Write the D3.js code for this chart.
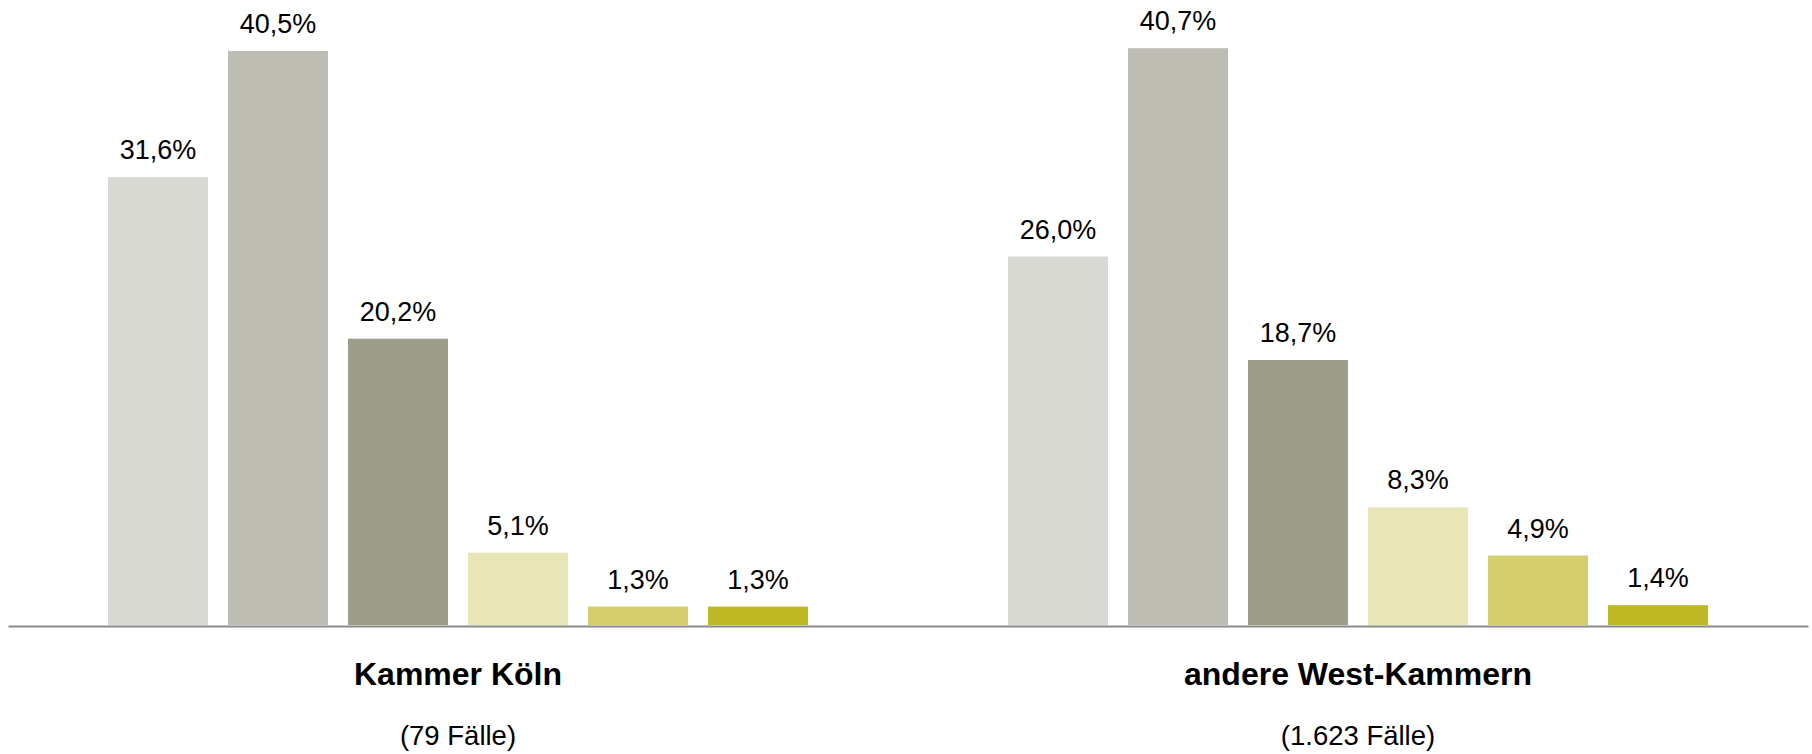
<!DOCTYPE html>
<html>
<head>
<meta charset="utf-8">
<script src="https://cdn.jsdelivr.net/npm/d3@7"></script>
<style>
  html, body { margin: 0; padding: 0; background: #ffffff; }
  svg { display: block; font-family: "Liberation Sans", Arial, sans-serif; }
</style>
</head>
<body>
<svg id="chart" width="1812" height="754"></svg>
<script>
const groups = ["Kammer Köln", "andere West-Kammern"];
const groupCases = ["(79 Fälle)", "(1.623 Fälle)"];
const seriesKeys = ["s1", "s2", "s3", "s4", "s5", "s6"];
const valuesKoeln = [31.6, 40.5, 20.2, 5.1, 1.3, 1.3];
const valuesWest = [26.0, 40.7, 18.7, 8.3, 4.9, 1.4];
const seriesColors = ["#d8d9d3", "#bdbdb3", "#9c9d8b", "#e8e6b6", "#d4cf6c", "#bfb825"];

const allValues = [valuesKoeln, valuesWest];
const fmt = v => d3.format(".1f")(v).replace(".", ",") + "%";

const svg = d3.select("#chart");
const baseY = 625;

const x0 = d3.scaleBand().domain(groups).range([8, 1808]).paddingInner(0).paddingOuter(0);
const x1 = d3.scaleBand().domain(seriesKeys).range([100, 800]).paddingInner(0.1666).paddingOuter(0);
const y = d3.scaleLinear().domain([0, 44.1]).range([baseY, 0]);

const g = svg.selectAll("g.group").data(groups).join("g")
  .attr("class", "group")
  .attr("transform", d => `translate(${x0(d)},0)`);

g.each(function(grp, gi) {
  const sel = d3.select(this);
  const data = seriesKeys.map((k, i) => ({ key: k, value: allValues[gi][i], color: seriesColors[i] }));
  sel.selectAll("rect").data(data).join("rect")
    .attr("x", d => x1(d.key))
    .attr("width", x1.bandwidth())
    .attr("y", d => y(d.value))
    .attr("height", d => baseY - y(d.value))
    .attr("fill", d => d.color);
  sel.selectAll("text.val").data(data).join("text")
    .attr("class", "val")
    .attr("x", d => x1(d.key) + x1.bandwidth() / 2)
    .attr("y", d => y(d.value) - 18)
    .attr("text-anchor", "middle")
    .attr("font-size", 27)
    .attr("fill", "#000")
    .text(d => fmt(d.value));
});

// baseline axis
const axis = d3.axisBottom(x0).tickSize(0).tickFormat("");
svg.append("g")
  .attr("transform", `translate(0,${baseY + 1})`)
  .call(axis)
  .call(a => a.select(".domain").attr("stroke", "#8a8a8a").attr("stroke-width", 2));

// category labels
svg.selectAll("text.cat").data(groups).join("text")
  .attr("class", "cat")
  .attr("x", d => x0(d) + x0.bandwidth() / 2)
  .attr("y", 685)
  .attr("text-anchor", "middle")
  .attr("font-size", 32)
  .attr("font-weight", "bold")
  .attr("fill", "#000")
  .text(d => d);

svg.selectAll("text.cases").data(groupCases).join("text")
  .attr("class", "cases")
  .attr("x", (d, i) => x0(groups[i]) + x0.bandwidth() / 2)
  .attr("y", 745)
  .attr("text-anchor", "middle")
  .attr("font-size", 27.5)
  .attr("fill", "#000")
  .text(d => d);
</script>
</body>
</html>
